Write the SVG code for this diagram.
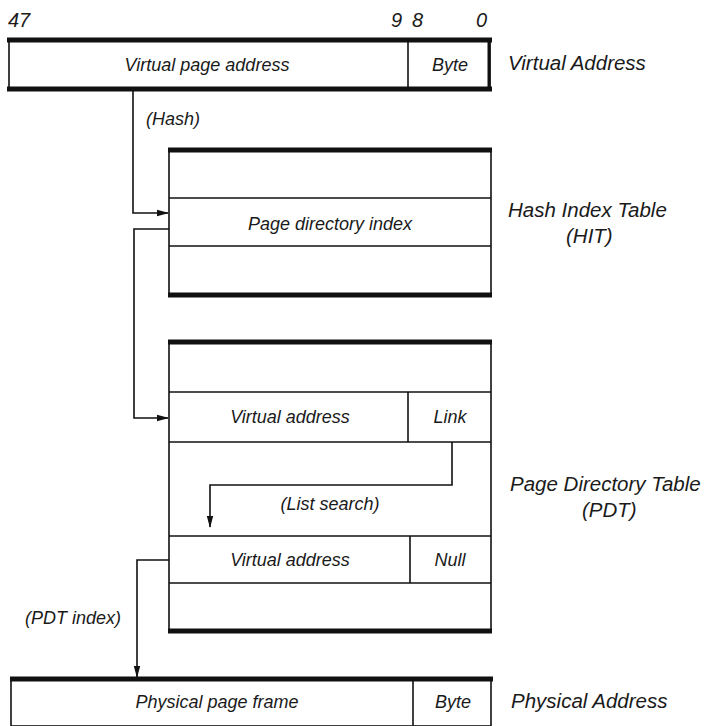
<svg xmlns="http://www.w3.org/2000/svg" width="714" height="726" viewBox="0 0 714 726">
<defs>
<marker id="arr" markerWidth="12" markerHeight="8" refX="11" refY="4" orient="auto" markerUnits="userSpaceOnUse">
<path d="M0,0.8 L12,4 L0,7.2 Z" fill="#111"/>
</marker>
<style>
text{font-family:"Liberation Sans",Arial,sans-serif;font-style:italic;fill:#1a1a1a}
.cell{font-size:18px;text-anchor:middle}
.lbl{font-size:20.5px}
.bit{font-size:20px}
.box{fill:#fff;stroke:#111;stroke-width:1.6}
.thick{stroke:#111;stroke-width:5}
.thin{stroke:#111;stroke-width:1.6;fill:none}
.conn{stroke:#111;stroke-width:1.6;fill:none}
</style>
</defs>
<rect width="714" height="726" fill="#fff"/>

<g id="virtual-address">
<text class="bit" x="8" y="27">47</text>
<text class="bit" x="391" y="27">9</text>
<text class="bit" x="412" y="27">8</text>
<text class="bit" x="476" y="27">0</text>
<rect class="box" x="9" y="40" width="481" height="49"/>
<line class="thick" x1="7" y1="40" x2="492" y2="40"/>
<line class="thick" x1="7" y1="89" x2="492" y2="89"/>
<line class="thin" x1="489" y1="40" x2="489" y2="89" style="stroke-width:3"/>
<line class="thin" x1="408" y1="40" x2="408" y2="89"/>
<text class="cell" x="207" y="71">Virtual page address</text>
<text class="cell" x="450" y="71">Byte</text>
<text class="lbl" x="508" y="70">Virtual Address</text>
</g>

<g id="hit">
<rect class="box" x="169" y="150" width="322" height="145"/>
<line class="thick" x1="168" y1="150" x2="492" y2="150"/>
<line class="thick" x1="168" y1="295" x2="492" y2="295"/>
<line class="thin" x1="169" y1="198" x2="491" y2="198"/>
<line class="thin" x1="169" y1="246" x2="491" y2="246"/>
<text class="cell" x="330" y="230">Page directory index</text>
<text class="lbl" x="508" y="217">Hash Index Table</text>
<text class="lbl" x="566" y="243">(HIT)</text>
</g>

<g id="pdt">
<rect class="box" x="169" y="342" width="322" height="289"/>
<line class="thick" x1="168" y1="342" x2="492" y2="342"/>
<line class="thick" x1="168" y1="631" x2="492" y2="631"/>
<line class="thin" x1="169" y1="392" x2="491" y2="392"/>
<line class="thin" x1="169" y1="442" x2="491" y2="442"/>
<line class="thin" x1="408" y1="392" x2="408" y2="442"/>
<line class="thin" x1="169" y1="536" x2="491" y2="536"/>
<line class="thin" x1="169" y1="583" x2="491" y2="583"/>
<line class="thin" x1="410" y1="536" x2="410" y2="583"/>
<text class="cell" x="290" y="423">Virtual address</text>
<text class="cell" x="450" y="423">Link</text>
<text class="cell" x="290" y="566">Virtual address</text>
<text class="cell" x="450" y="566">Null</text>
<text class="cell" x="330" y="510">(List search)</text>
<text class="lbl" x="510" y="491">Page Directory Table</text>
<text class="lbl" x="582" y="517">(PDT)</text>
</g>

<g id="physical-address">
<rect class="box" x="11" y="679" width="480" height="47"/>
<line class="thick" x1="10" y1="679" x2="493" y2="679"/>
<line class="thin" x1="413" y1="679" x2="413" y2="726"/>
<text class="cell" x="217" y="708">Physical page frame</text>
<text class="cell" x="453" y="708">Byte</text>
<text class="lbl" x="511" y="708">Physical Address</text>
</g>

<g id="connectors">
<path class="conn" d="M133,90 V213 H168" marker-end="url(#arr)"/>
<text class="cell" x="173" y="125">(Hash)</text>
<path class="conn" d="M169,229 H134 V418 H168" marker-end="url(#arr)"/>
<path class="conn" d="M452,442 V485 H210 V527" marker-end="url(#arr)"/>
<path class="conn" d="M169,560 H137 V677" marker-end="url(#arr)"/>
<text class="cell" x="73" y="624">(PDT index)</text>
</g>
</svg>
